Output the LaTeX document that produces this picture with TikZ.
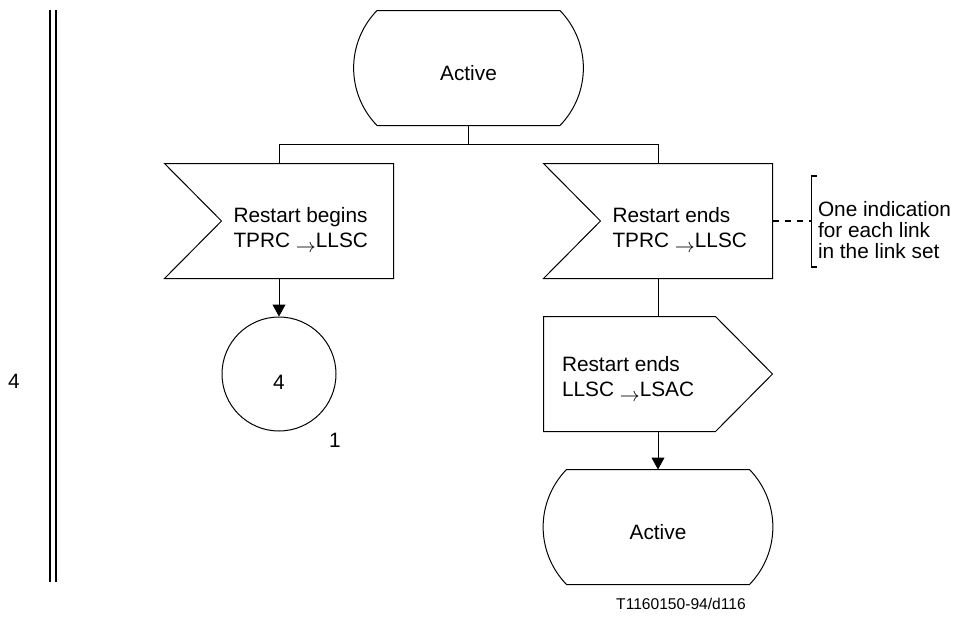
\documentclass[tikz,border=0pt]{standalone}
\usepackage{fontspec}
\setmainfont{Liberation Sans}
\usetikzlibrary{arrows.meta, positioning, calc}

\newcommand{\sigto}{\raisebox{-2.5pt}[0pt][0pt]{$\rightarrow$}}

\begin{document}
\begin{tikzpicture}[
  x = 0.5pt, y = -0.5pt,
  line width = 0.5pt,
  node distance = 19pt and 75pt,
  font = \fontsize{10.4}{12.5}\selectfont,
  frame/.style = {rectangle, minimum width=114pt, minimum height=57pt,
                  inner sep=0pt},
  state/.style = {frame, text height=12pt, text depth=0pt},
  conn/.style  = {circle, draw, minimum size=57pt, inner sep=0pt,
                  text height=15.5pt, text depth=0pt},
  txt/.style   = {align=left, inner sep=0pt},
  note/.style  = {align=left, inner sep=0pt,
                  font=\fontsize{10.4}{10.5}\selectfont},
  arr/.style   = {-{Triangle[length=6pt, width=6.5pt]}},
  rule/.style  = {line width=1pt},
]
\useasboundingbox (0,0) rectangle (955,617);

% page margin
\draw[rule] (50,10) -- (50,582);
\draw[rule] (56,10) -- (56,582);
\node (lvl) at (14,381) {4};

\node[frame] (lin) at (279,221) {};
\node[frame, right=of lin] (rin) {};
\coordinate (mid) at ($(lin.north)!0.5!(rin.north)$);
\node[state, above=of mid] (act1) {Active};
\node[conn, below=of lin] (c4) {4};
\node[frame, below=of rin] (out) {};
\node[state, below=of out] (act2) {Active};

\node[txt, right=34.25pt of lin.west, yshift=-3.5pt] (lin-t)
  {Restart begins\\TPRC \sigto LLSC};
\node[txt, right=34.25pt of rin.west, yshift=-3.5pt] (rin-t)
  {Restart ends\\TPRC \sigto LLSC};
\node[txt, right=9pt of out.west, yshift=-1.5pt] (out-t)
  {Restart ends\\LLSC \sigto LSAC};
\node (pg) at ([xshift=28pt, yshift=-33pt]c4.center) {1};

% input signals
\foreach \n in {lin, rin}
  \draw (\n.north west) -- (\n.north east) -- (\n.south east)
        -- (\n.south west) -- ([xshift=28.5pt]\n.west) -- cycle;
% output signal
\draw (out.north west) -- ([xshift=-28.5pt]out.north east) -- (out.east)
      -- ([xshift=-28.5pt]out.south east) -- (out.south west) -- cycle;
% states
\foreach \n in {act1, act2}
  \draw ([xshift=11.5pt]\n.north west) -- ([xshift=-11.5pt]\n.north east)
        to[bend left=44] ([xshift=-11.5pt]\n.south east)
        -- ([xshift=11.5pt]\n.south west)
        to[bend left=44] ([xshift=11.5pt]\n.north west) -- cycle;

\coordinate (split) at ($(act1.south)!0.5!(mid)$);
\draw (act1.south) -- (split);
\draw (split) -| (lin.north);
\draw (split) -| (rin.north);
\draw[arr] (lin.south) -- (c4.north);
\draw (rin.south) -- (out.north);
\draw[arr] (out.south) -- (act2.north);

% comment bracket
\coordinate[right=19.5pt of rin.east] (brk);
\draw[dashed, line width=0.8pt] (rin.east) -- (brk);
\draw[line width=0.9pt] ([xshift=2.5pt, yshift=22.5pt]brk) -- ++(-2.5pt,0)
      |- ([xshift=2.5pt, yshift=-23pt]brk);
\node[note, right=3pt of brk, yshift=-4.5pt] (ind)
  {One indication\\for each link\\in the link set};

\node[font=\fontsize{7.8}{9}\selectfont] (fig) at (681,604) {T1160150-94/d116};
\end{tikzpicture}
\end{document}
